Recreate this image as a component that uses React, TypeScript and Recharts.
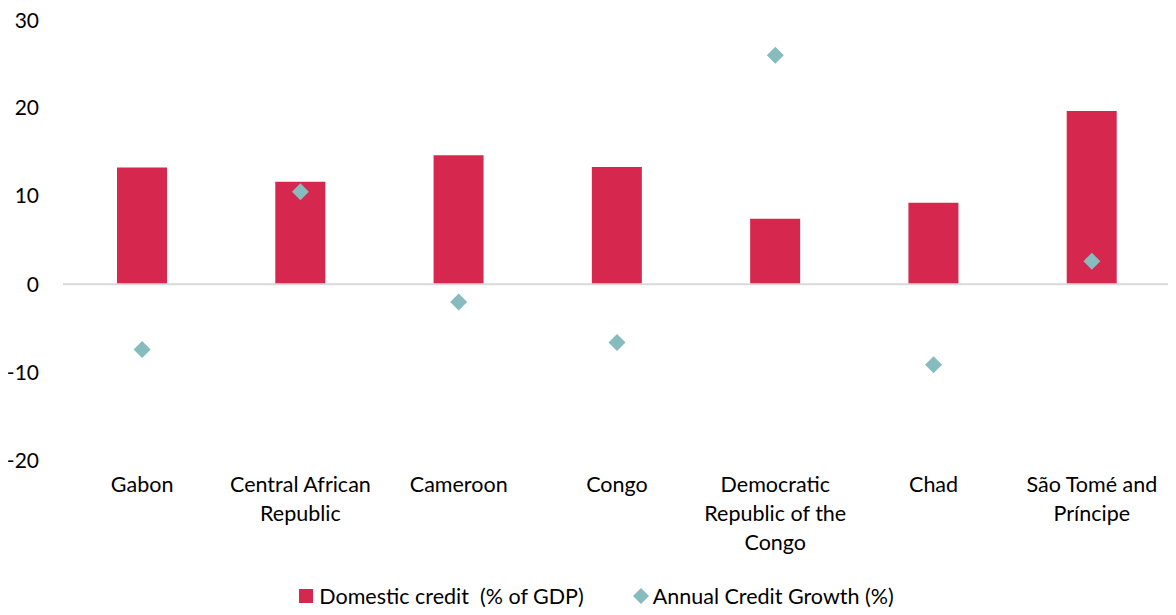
import React from 'react'
import { ComposedChart, Bar, Scatter, XAxis, YAxis, ReferenceLine, Legend } from 'recharts'

const countries = ['Gabon', 'Central African Republic', 'Cameroon', 'Congo', 'Democratic Republic of the Congo', 'Chad', 'São Tomé and Príncipe']
const countryLines = [
  ['Gabon'],
  ['Central African', 'Republic'],
  ['Cameroon'],
  ['Congo'],
  ['Democratic', 'Republic of the', 'Congo'],
  ['Chad'],
  ['São Tomé and', 'Príncipe'],
]
const domesticCredit = [13.2, 11.6, 14.6, 13.25, 7.4, 9.2, 19.6]
const creditGrowth = [-7.4, 10.45, -2.0, -6.6, 25.9, -9.1, 2.6]
const yTicks = [-20, -10, 0, 10, 20, 30]

const RED = '#D6274E'
const TEAL = '#86BCBE'
const FONT = 'Lato, "Liberation Sans", sans-serif'

const chartData = countries.map((name, i) => ({
  name,
  credit: domesticCredit[i],
  growth: creditGrowth[i],
}))

const Diamond = (props: any) => {
  const { cx, cy } = props
  const r = 8.5
  return <polygon points={`${cx},${cy - r} ${cx + r},${cy} ${cx},${cy + r} ${cx - r},${cy}`} fill={TEAL} />
}

const CountryTick = (props: any) => {
  const { x, y, payload } = props
  const lines = countryLines[countries.indexOf(payload.value)] || [payload.value]
  return (
    <text x={x} y={y} textAnchor="middle" fill="#000" fontSize={21.5} fontFamily={FONT}>
      {lines.map((l, i) => (
        <tspan key={i} x={x} dy={i === 0 ? 23 : 29}>{l}</tspan>
      ))}
    </text>
  )
}

const LegendContent = () => (
  <div style={{ display: 'flex', justifyContent: 'center', alignItems: 'center', fontFamily: FONT, fontSize: 21.5, color: '#000', height: 24, paddingLeft: 14 }}>
    <svg width={14} height={14} style={{ marginRight: 6 }}>
      <rect x={0} y={0} width={14} height={14} fill={RED} />
    </svg>
    <span>Domestic credit&nbsp; (% of GDP)</span>
    <svg width={18} height={18} style={{ marginLeft: 48, marginRight: 3 }}>
      <polygon points="9,1 17,9 9,17 1,9" fill={TEAL} />
    </svg>
    <span>Annual Credit Growth (%)</span>
  </div>
)

const App = () => {
  return (
    <div style={{ background: '#fff' }}>
      <ComposedChart
        width={1168}
        height={607}
        data={chartData}
        margin={{ top: 11, right: 5, left: 0, bottom: 7 }}
      >
        <XAxis
          dataKey="name"
          axisLine={false}
          tickLine={false}
          interval={0}
          height={123}
          tick={<CountryTick />}
        />
        <YAxis
          domain={[-20, 30]}
          ticks={yTicks}
          axisLine={false}
          tickLine={false}
          tickSize={0}
          tickMargin={24}
          width={55}
          tick={{ fill: '#000', fontSize: 21, fontFamily: FONT }}
        />
        <ReferenceLine y={0} stroke="#D9D9D9" strokeWidth={2} />
        <Bar dataKey="credit" fill={RED} barSize={50} isAnimationActive={false} />
        <Scatter dataKey="growth" shape={<Diamond />} isAnimationActive={false} />
        <Legend verticalAlign="bottom" height={24} content={<LegendContent />} />
      </ComposedChart>
    </div>
  )
}

export default App
